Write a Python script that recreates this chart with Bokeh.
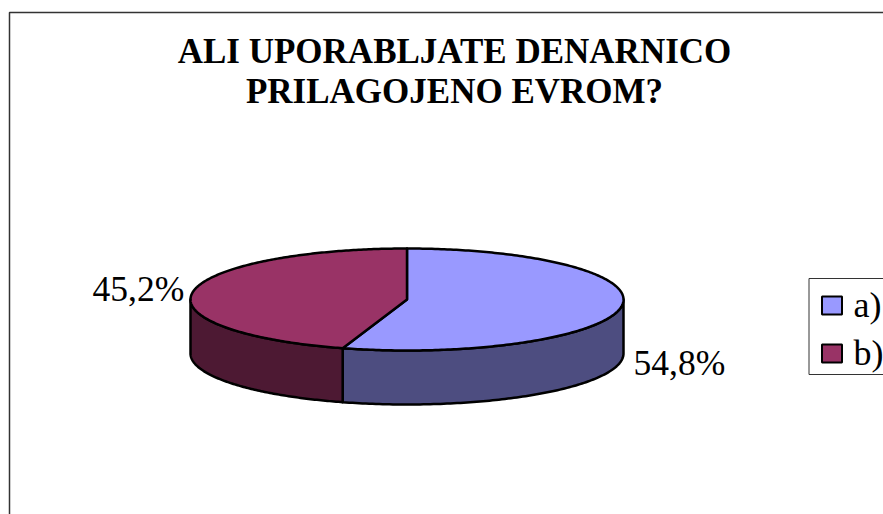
import numpy as np
from bokeh.core.properties import value
from bokeh.embed import file_html
from bokeh.models import Range1d
from bokeh.plotting import figure
from bokeh.resources import INLINE

title_lines = ["ALI UPORABLJATE DENARNICO", "PRILAGOJENO EVROM?"]
categories = ["a)", "b)"]
shares = [54.8, 45.2]
labels = ["54,8%", "45,2%"]
top_colors = ["#9999FF", "#993366"]
side_colors = ["#4D4D80", "#4D1933"]

SERIF = value("Liberation Serif")
W, H = 883, 514
CX, CY, RX, RY, DEPTH = 406.5, 299.0, 216.5, 51.0, 54.0

p = figure(width=W, height=H, x_range=Range1d(0, W), y_range=Range1d(H, 0),
           toolbar_location=None, output_backend="svg", min_border=0,
           background_fill_color="white", border_fill_color="white", outline_line_color=None)
p.axis.visible = False
p.grid.visible = False

def px(t):
    return CX + RX * np.sin(t)

def py(t):
    return CY - RY * np.cos(t)

# chart frame (open at the right and bottom, as cropped in the reference)
p.line([9, 9, W], [H, 12, 12], line_color="#333333", line_width=1.5)

edges = np.cumsum([0.0] + shares) / sum(shares) * 2 * np.pi

# side walls of the visible front half
for i in range(2):
    a = max(edges[i], np.pi / 2)
    b = min(edges[i + 1], 3 * np.pi / 2)
    t = np.linspace(a, b, 120)
    xs = np.concatenate([px(t), px(t[::-1])])
    ys = np.concatenate([py(t), py(t[::-1]) + DEPTH])
    p.patch(xs, ys, fill_color=side_colors[i], line_color="black", line_width=2.5, line_join="round")

# top faces
for i in range(2):
    t = np.linspace(edges[i], edges[i + 1], 240)
    xs = np.concatenate([[CX], px(t)])
    ys = np.concatenate([[CY], py(t)])
    p.patch(xs, ys, fill_color=top_colors[i], line_color="black", line_width=2.5, line_join="round")

# title
for line, y in zip(title_lines, [51, 91]):
    p.text([454], [y], text=[line], text_font=SERIF, text_font_style="bold", text_font_size="35px",
           text_align="center", text_baseline="alphabetic", text_color="black")

# data labels
p.text([633, 92], [362, 288], text=labels, text_font=SERIF, text_font_size="35.5px",
       text_align="left", text_baseline="alphabetic", text_color="black")

# legend
p.line([W, 808.5, 808.5, W], [278, 278, 374, 374], line_color="#333333", line_width=1)
p.rect([831.5, 831.5], [305, 353], width=20, height=18, fill_color=top_colors,
       line_color="black", line_width=2)
p.text([853, 853], [304, 352], text=categories, text_font=SERIF, text_font_size="36px",
       text_align="left", text_baseline="alphabetic", text_color="black")

open("out.html", "w").write(file_html(p, INLINE))
